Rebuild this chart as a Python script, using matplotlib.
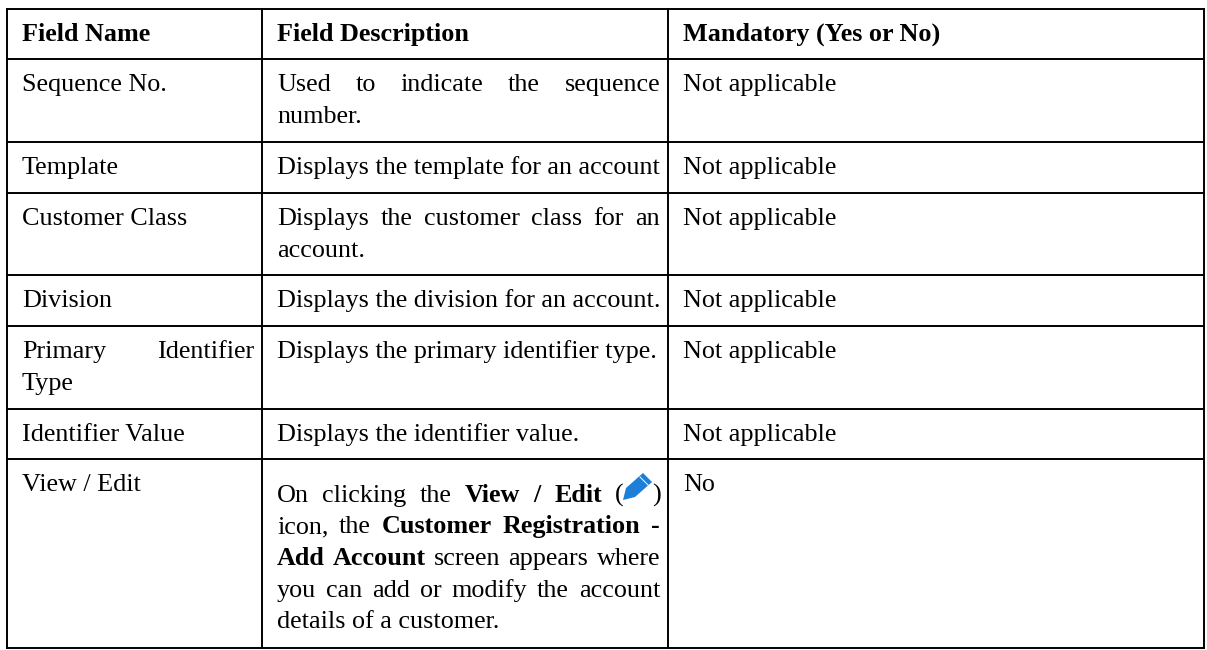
import matplotlib
matplotlib.use("Agg")
import matplotlib.pyplot as plt
from matplotlib.patches import Polygon

WIDTH, HEIGHT = 1207, 650

column_edges = [7, 262, 668, 1204]
row_edges = [9, 59, 142, 193, 275, 326, 409, 459, 648]

headers = ["Field Name", "Field Description", "Mandatory (Yes or No)"]
field_names = [
    ["Sequence No."],
    ["Template"],
    ["Customer Class"],
    ["Division"],
    ["Primary Identifier", "Type"],
    ["Identifier Value"],
    ["View / Edit"],
]
field_descriptions = [
    ["Used to indicate the sequence", "number."],
    ["Displays the template for an account"],
    ["Displays the customer class for an", "account."],
    ["Displays the division for an account."],
    ["Displays the primary identifier type."],
    ["Displays the identifier value."],
]
mandatory = [
    "Not applicable",
    "Not applicable",
    "Not applicable",
    "Not applicable",
    "Not applicable",
    "Not applicable",
    "No",
]

FONT = "Liberation Serif"
SIZE = 18.85
LINE_GAP = 32


def spread(ax, words, x0, x1, y):
    # justified line, words pushed out to both cell edges
    renderer = ax.figure.canvas.get_renderer()
    widths = []
    for word, bold in words:
        t = ax.text(0, 0, word, fontsize=SIZE, family=FONT, weight="bold" if bold else "normal")
        widths.append(t.get_window_extent(renderer).width)
        t.remove()
    gap = (x1 - x0 - sum(widths)) / max(len(words) - 1, 1)
    x = x0
    for (word, bold), w in zip(words, widths):
        ax.text(x, y, word, fontsize=SIZE, family=FONT, va="baseline",
                weight="bold" if bold else "normal", color="black")
        x += w + gap


def plain(ax, s, x, y, bold=False):
    ax.text(x, y, s, fontsize=SIZE, family=FONT, va="baseline",
            weight="bold" if bold else "normal", color="black")


def main():
    fig = plt.figure(figsize=(WIDTH / 100, HEIGHT / 100), dpi=100)
    ax = fig.add_axes([0, 0, 1, 1])
    ax.set_xlim(0, WIDTH)
    ax.set_ylim(HEIGHT, 0)
    ax.axis("off")
    fig.canvas.draw()

    for x in column_edges:
        ax.plot([x, x], [row_edges[0], row_edges[-1]], color="black", lw=1.4, solid_capstyle="projecting")
    for y in row_edges:
        ax.plot([column_edges[0], column_edges[-1]], [y, y], color="black", lw=1.4, solid_capstyle="projecting")

    col_x = [edge + 15 for edge in column_edges[:3]]
    for x, label in zip(col_x, headers):
        plain(ax, label, x, 41, bold=True)

    for i, lines in enumerate(field_names):
        base = row_edges[i + 1] + 32
        for j, line in enumerate(lines):
            if line == "Primary Identifier":
                spread(ax, [("Primary", False), ("Identifier", False)], col_x[0], column_edges[1] - 8, base)
            else:
                plain(ax, line, col_x[0], base + j * LINE_GAP)

    for i, lines in enumerate(field_descriptions):
        base = row_edges[i + 1] + 32
        for j, line in enumerate(lines):
            if j == 0 and len(lines) > 1:
                spread(ax, [(w, False) for w in line.split()], col_x[1], column_edges[2] - 8, base)
            else:
                plain(ax, line, col_x[1], base + j * LINE_GAP)

    for i, value in enumerate(mandatory):
        plain(ax, value, col_x[2], row_edges[i + 1] + 32)

    # justified paragraph in the View / Edit cell
    x0, x1 = col_x[1], column_edges[2] - 8
    spread(ax, [("On", False), ("clicking", False), ("the", False), ("View", True), ("/", True),
                ("Edit", True)], x0, 602, 502)
    plain(ax, "(", 615, 502)
    plain(ax, ")", 652, 502)
    spread(ax, [("icon,", False), ("the", False), ("Customer", True), ("Registration", True), ("-", True)], x0, x1, 533)
    spread(ax, [("Add", True), ("Account", True), ("screen", False), ("appears", False), ("where", False)], x0, x1, 565)
    spread(ax, [(w, False) for w in "you can add or modify the account".split()], x0, x1, 597)
    plain(ax, "details of a customer.", x0, 628)

    # pencil icon
    ax.add_patch(Polygon([[623, 500], [626, 488], [643, 473], [652, 482], [635, 497]], closed=True,
                         facecolor="#1e7fd8", edgecolor="none"))
    ax.plot([640, 648], [477, 485], color="white", lw=0.7)

    fig.savefig("out.png", dpi=100, facecolor="white")
    plt.close(fig)


if __name__ == "__main__":
    main()
